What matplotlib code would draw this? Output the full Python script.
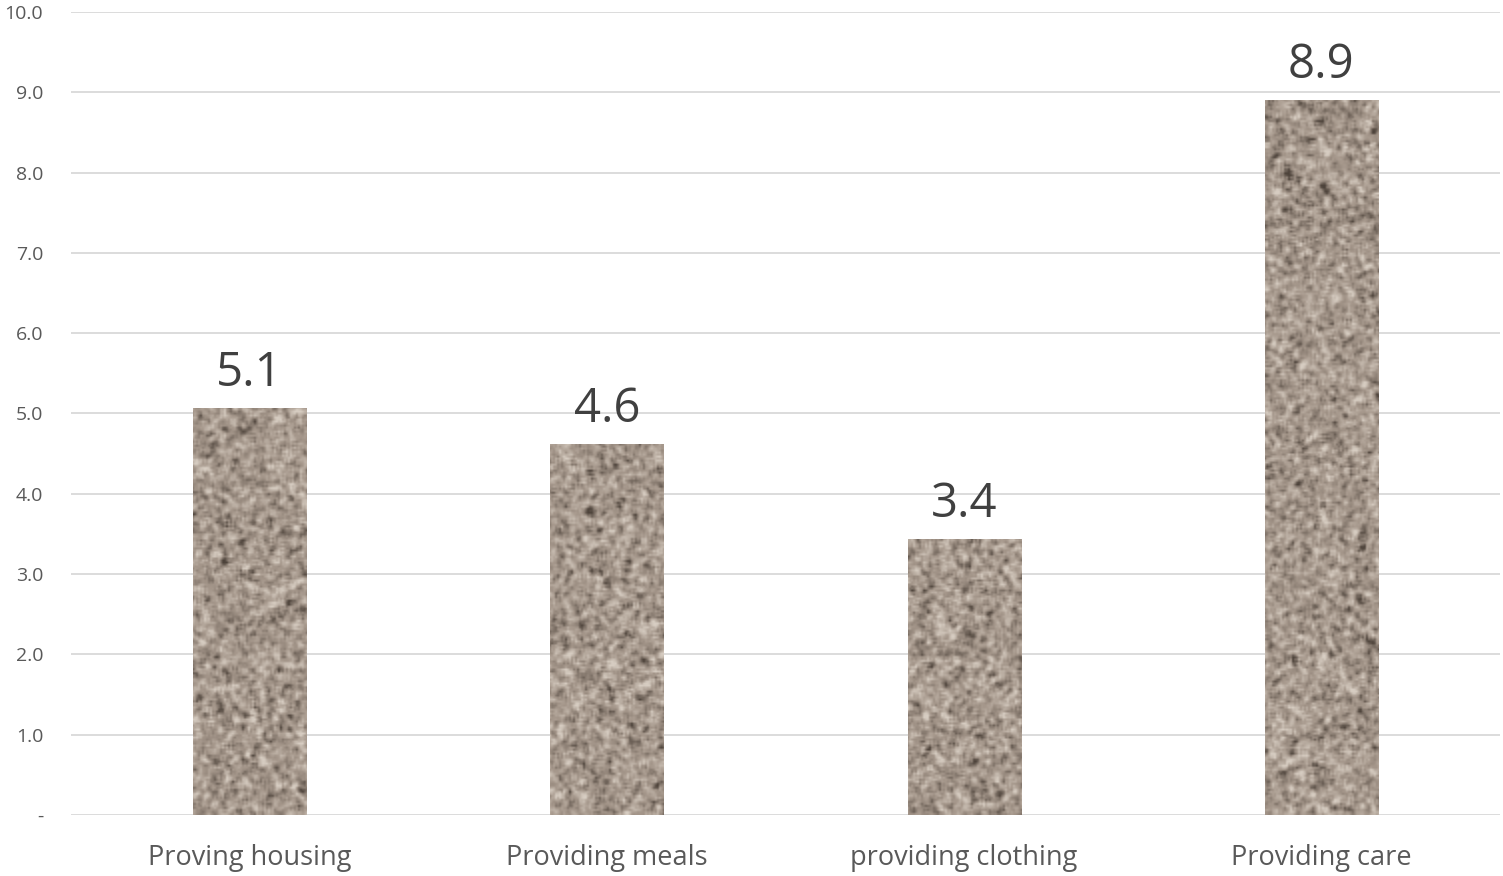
import numpy as np
import matplotlib
matplotlib.use("Agg")
import matplotlib.pyplot as plt

categories = ["Proving housing", "Providing meals", "providing clothing", "Providing care"]
values = [5.07, 4.62, 3.44, 8.9]
y_ticks = [0, 1, 2, 3, 4, 5, 6, 7, 8, 9, 10]
y_tick_labels = ["-", "1.0", "2.0", "3.0", "4.0", "5.0", "6.0", "7.0", "8.0", "9.0", "10.0"]

plt.rcParams['font.family'] = ['Open Sans', 'DejaVu Sans']
text_color = '#595959'


def stone_texture(h, w, seed=3):
    # speckled granite-like fill for the bars (style only, not data)
    rng = np.random.default_rng(seed)
    n = rng.normal(size=(h, w))
    k = np.ones(3) / 3.
    n = np.apply_along_axis(lambda r: np.convolve(r, k, mode='same'), 1, n)
    n = np.apply_along_axis(lambda c: np.convolve(c, k, mode='same'), 0, n)
    n = n / n.std()
    base = np.array([165, 151, 139]) / 255.
    dark = np.array([70, 60, 52]) / 255.
    light = np.array([215, 205, 194]) / 255.
    t = np.clip(n, -3, 3)
    lo = np.clip(-t / 3.2, 0, 1)[..., None] ** 1.3
    hi = np.clip(t / 2.6, 0, 1)[..., None]
    img = np.empty((h, w, 3))
    img[:] = base
    img = img * (1 - lo) + dark * lo
    img = img * (1 - hi) + light * hi
    return img


fig = plt.figure(figsize=(15.03, 8.76), dpi=100)
ax = fig.add_axes([71 / 1503, 1 - 815 / 876, 1429 / 1503, 803 / 876])

x = np.arange(len(categories))
bars = ax.bar(x, values, width=0.317, color='none', edgecolor='none', zorder=3)

ax.set_xlim(-0.5, len(categories) - 0.5)
ax.set_ylim(0, 10)

tex = stone_texture(400, 720)
for b in bars:
    im = ax.imshow(tex, extent=(-0.5, len(categories) - 0.5, 0, 10),
                   aspect='auto', zorder=3, interpolation='bilinear')
    im.set_clip_path(b)

for xi, v in zip(x, values):
    ax.text(xi, v + 0.14, "%.1f" % v, ha='center', va='bottom',
            fontsize=34, color='#404040')

ax.set_yticks(y_ticks)
ax.set_yticklabels(y_tick_labels)
ax.set_xticks(x)
ax.set_xticklabels(categories)
ax.grid(axis='y', color='#d9d9d9', linewidth=1.3, zorder=0)
ax.set_axisbelow(True)
for s in ax.spines.values():
    s.set_visible(False)
ax.tick_params(axis='y', length=0, pad=20, labelsize=14, labelcolor=text_color)
ax.tick_params(axis='x', length=0, pad=21, labelsize=19.5, labelcolor=text_color)

fig.savefig("out.png", dpi=100)
